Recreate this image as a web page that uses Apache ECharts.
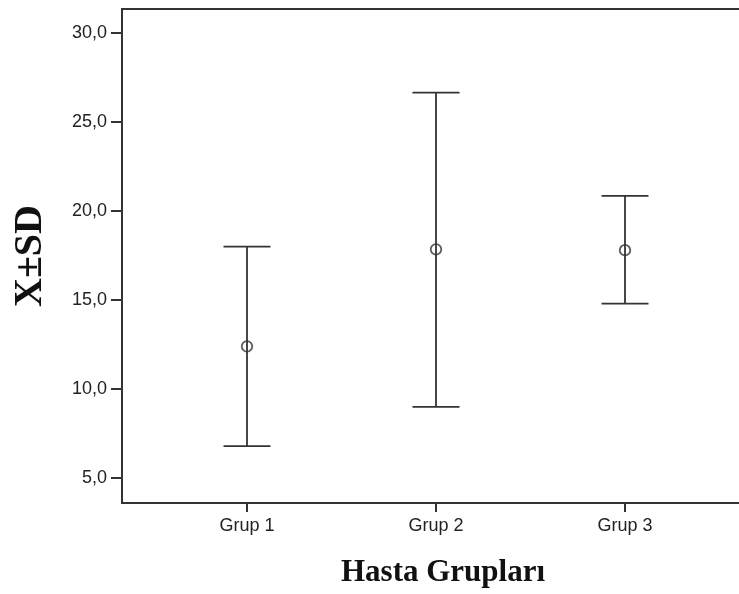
<!DOCTYPE html>
<html>
<head>
<meta charset="utf-8">
<script src="https://cdn.jsdelivr.net/npm/echarts@6/dist/echarts.min.js"></script>
<style>
  html, body { margin: 0; padding: 0; background: #fff; }
  #chart { width: 739px; height: 594px; }
</style>
</head>
<body>
<div id="chart"></div>
<script>
// Groups and their mean ± SD
const groups = ['Grup 1', 'Grup 2', 'Grup 3'];
const means = [12.4, 17.85, 17.8];
const lowerSD = [6.8, 9.0, 14.8];
const upperSD = [18.0, 26.65, 20.85];
const yTicks = [5, 10, 15, 20, 25, 30];

const ink = '#333';
const chart = echarts.init(document.getElementById('chart'));

const positions = groups.map((g, i) => i + 1);

chart.setOption({
  animation: false,
  backgroundColor: '#fff',
  grid: {
    left: 122, top: 9, bottom: 91, right: -5,
    outerBoundsMode: 'none', containLabel: false,
    show: true, borderColor: ink, borderWidth: 2, backgroundColor: 'transparent'
  },
  xAxis: {
    type: 'value',
    min: 0.3386,
    max: 3.6296,
    name: 'Hasta Grupları',
    nameLocation: 'middle',
    nameGap: 54,
    nameTextStyle: {
      fontFamily: 'Liberation Serif', fontWeight: 'bold', fontSize: 31, color: '#111',
      padding: [0, 0, 0, 20]
    },
    axisLine: { show: true, lineStyle: { color: ink, width: 2 } },
    axisTick: { show: true, length: 9, customValues: positions, lineStyle: { color: ink, width: 2 } },
    axisLabel: {
      customValues: positions,
      formatter: v => groups[Math.round(v) - 1] || '',
      fontFamily: 'Liberation Sans', fontSize: 18, color: '#222', margin: 14
    },
    splitLine: { show: false }
  },
  yAxis: {
    type: 'value',
    min: 3.6,
    max: 31.35,
    name: 'X±SD',
    nameLocation: 'middle',
    nameGap: 71,
    nameTextStyle: { fontFamily: 'Liberation Serif', fontWeight: 'bold', fontSize: 40, color: '#111' },
    axisLine: { show: true, lineStyle: { color: ink, width: 2 } },
    axisTick: { show: true, length: 11, customValues: yTicks, lineStyle: { color: ink, width: 2 } },
    axisLabel: {
      customValues: yTicks,
      formatter: v => v.toFixed(1).replace('.', ','),
      fontFamily: 'Liberation Sans', fontSize: 18, color: '#222', margin: 15
    },
    splitLine: { show: false }
  },
  series: [
    {
      type: 'custom',
      data: groups.map((g, i) => [i + 1, lowerSD[i], upperSD[i]]),
      renderItem: (params, api) => {
        const x = api.value(0);
        const lo = api.coord([x, api.value(1)]);
        const hi = api.coord([x, api.value(2)]);
        const half = 23.5;
        const style = { stroke: ink, lineWidth: 1.8 };
        return {
          type: 'group',
          children: [
            { type: 'line', shape: { x1: lo[0], y1: lo[1], x2: hi[0], y2: hi[1] }, style },
            { type: 'line', shape: { x1: hi[0] - half, y1: hi[1], x2: hi[0] + half, y2: hi[1] }, style },
            { type: 'line', shape: { x1: lo[0] - half, y1: lo[1], x2: lo[0] + half, y2: lo[1] }, style }
          ]
        };
      },
      z: 2
    },
    {
      // hollow mean markers, the SD line shows through them
      type: 'scatter',
      data: groups.map((g, i) => [i + 1, means[i]]),
      symbol: 'circle',
      symbolSize: 10.5,
      itemStyle: { color: 'rgba(0,0,0,0)', borderColor: ink, borderWidth: 1.8 },
      z: 3
    }
  ]
});
</script>
</body>
</html>
